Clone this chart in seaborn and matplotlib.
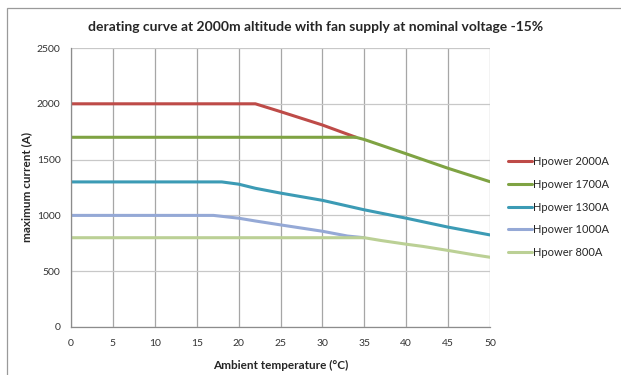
import pandas as pd
import matplotlib.pyplot as plt
import seaborn as sns
from matplotlib.patches import Rectangle

# data
temp_2000 = [0, 22, 25, 30, 34]
curr_2000 = [2000, 2000, 1930, 1810, 1700]

temp_1700 = [0, 34, 35, 40, 45, 50]
curr_1700 = [1700, 1700, 1680, 1552, 1422, 1302]

temp_1300 = [0, 18, 20, 22, 25, 30, 35, 40, 45, 50]
curr_1300 = [1300, 1300, 1280, 1243, 1200, 1135, 1050, 975, 895, 825]

temp_1000 = [0, 17, 20, 22, 25, 30, 33, 35]
curr_1000 = [1000, 1000, 975, 950, 915, 858, 815, 800]

temp_800 = [0, 35, 37, 40, 42, 45, 48, 50]
curr_800 = [800, 800, 775, 742, 722, 686, 648, 625]

series = ["Hpower 2000A", "Hpower 1700A", "Hpower 1300A", "Hpower 1000A", "Hpower 800A"]
colores = ["#BE4B48", "#7FA343", "#3C9BB5", "#95A9D6", "#BBD095"]

# tabla larga para seaborn
partes = []
for nombre, t, c in zip(series,
                        [temp_2000, temp_1700, temp_1300, temp_1000, temp_800],
                        [curr_2000, curr_1700, curr_1300, curr_1000, curr_800]):
    partes.append(pd.DataFrame({"temp": t, "curr": c, "serie": nombre}))
df = pd.concat(partes, ignore_index=True)

sns.set_style("white")
plt.rcParams['font.family'] = ['Lato', 'DejaVu Sans']

fig = plt.figure(figsize=(6.21, 3.75), dpi=100)
ax = fig.add_axes([71 / 621, 1 - 327 / 375, 419 / 621, 279 / 375])

sns.lineplot(data=df, x="temp", y="curr", hue="serie", hue_order=series,
             palette=colores, linewidth=2.2, ax=ax, sort=False, estimator=None)

ax.set_xlim(0, 50)
ax.set_ylim(0, 2500)
ax.set_xticks(range(0, 51, 5))
ax.set_yticks(range(0, 2501, 500))
ax.xaxis.grid(True, color="#A6A6A6", linewidth=0.9)
ax.yaxis.grid(True, color="#C8C8C8", linewidth=0.9)
ax.set_axisbelow(True)
for lado in ["top", "right"]:
    ax.spines[lado].set_visible(False)
for lado in ["left", "bottom"]:
    ax.spines[lado].set_color("#8C8C8C")
    ax.spines[lado].set_linewidth(0.9)
ax.tick_params(axis="both", length=4, width=0.9, color="#8C8C8C",
               labelsize=7.5, labelcolor="#333333", direction="out")
ax.tick_params(axis="x", pad=5)

ax.set_xlabel("Ambient temperature (°C)", fontsize=8.5, fontweight="bold", labelpad=8)
ax.set_ylabel("maximum current (A)", fontsize=8.5, fontweight="bold", labelpad=3)

fig.text(316 / 621, 1 - 27 / 375,
         "derating curve at 2000m altitude with fan supply at nominal voltage -15%",
         ha="center", va="center", fontsize=10, fontweight="bold")

leg = ax.legend(loc="center left", bbox_to_anchor=(1.02, 0.43), frameon=False,
                fontsize=8.0, handlelength=2.1, handletextpad=0.15, labelspacing=1.05)
for linea in leg.get_lines():
    linea.set_linewidth(2.2)

# marco exterior del gráfico
fig.patches.append(Rectangle((7 / 621, -0.1), 1.2, 1 - 8 / 375 + 0.1,
                             transform=fig.transFigure, fill=False,
                             edgecolor="#9A9A9A", linewidth=0.9))

fig.savefig("out.png", dpi=100)
